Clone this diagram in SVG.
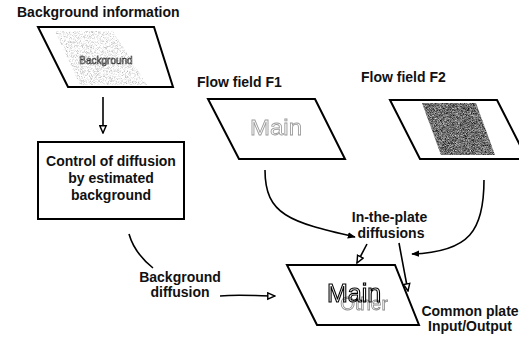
<svg xmlns="http://www.w3.org/2000/svg" width="519" height="337" viewBox="0 0 519 337">
<defs>
<style>
.t{font-family:"Liberation Sans",Arial,sans-serif;font-weight:bold;font-size:14px;fill:#111}
.plate{fill:#fff;stroke:#000;stroke-width:2;stroke-linejoin:miter}
.c{fill:none;stroke:#000;stroke-width:1.6}
.o{font-family:"Liberation Sans",Arial,sans-serif;}
</style>
<filter id="nLight" x="0" y="0" width="1" height="1" color-interpolation-filters="sRGB">
<feTurbulence type="fractalNoise" baseFrequency="1.8" numOctaves="1" seed="3"/>
<feColorMatrix type="matrix" values="0 0 0 0 0.6  0 0 0 0 0.6  0 0 0 0 0.6  2 0 0 0 -0.9"/>
<feComposite in2="SourceAlpha" operator="in"/>
</filter>
<filter id="nDark" x="0" y="0" width="1" height="1" color-interpolation-filters="sRGB">
<feTurbulence type="fractalNoise" baseFrequency="1.6" numOctaves="1" seed="7"/>
<feColorMatrix type="matrix" values="1.3 0 0 0 -0.22  1.3 0 0 0 -0.22  1.3 0 0 0 -0.22  0 0 0 0 1"/>
<feComposite in2="SourceAlpha" operator="in"/>
</filter>
<marker id="open" viewBox="0 0 10 10" refX="9" refY="5" markerWidth="9" markerHeight="9" orient="auto" markerUnits="userSpaceOnUse">
<path d="M1,1.5 L9,5 L1,8.5 Z" fill="#fff" stroke="#000" stroke-width="1.6"/>
</marker>
<marker id="solid" viewBox="0 0 10 10" refX="9" refY="5" markerWidth="8" markerHeight="8" orient="auto" markerUnits="userSpaceOnUse">
<path d="M0,1 L10,5 L0,9 Z" fill="#000"/>
</marker>
</defs>
<rect width="519" height="337" fill="#fff"/>

<g id="background-information">
<text class="t" x="17" y="17">Background information</text>
<polygon class="plate" points="38,27 154,27 173,87 68,87"/>
<polygon points="55,31 113,31 147,85 80,85" fill="#000" filter="url(#nLight)"/>
<text class="o" x="106" y="64" font-size="10" text-anchor="middle" fill="none" stroke="#333" stroke-width="0.6" opacity="0.99">Background</text>
</g>

<g id="control-box">
<rect x="38" y="142" width="146" height="77" fill="#fff" stroke="#000" stroke-width="2"/>
<text class="t" x="111" y="166" text-anchor="middle">Control of diffusion</text>
<text class="t" x="111" y="183" text-anchor="middle">by estimated</text>
<text class="t" x="111" y="200" text-anchor="middle">background</text>
</g>

<g id="flow-field-f1">
<text class="t" x="197" y="87">Flow field F1</text>
<polygon class="plate" points="208,99 315,99 345,159 239,159"/>
<text class="o" x="276" y="135" font-size="22" text-anchor="middle" textLength="52" lengthAdjust="spacingAndGlyphs" fill="#fff" stroke="#999" stroke-width="0.8" opacity="0.99">Main</text>
</g>

<g id="flow-field-f2">
<text class="t" x="361" y="82">Flow field F2</text>
<polygon class="plate" points="390,100 497,100 527,159 420,159"/>
<polygon points="422,103 476,103 495,155 441,155" fill="#000" filter="url(#nDark)"/>
</g>

<g id="common-plate">
<polygon class="plate" points="287,265 395,265 419,325 317,325"/>
<text class="o" x="364" y="310" font-size="19" text-anchor="middle" fill="none" stroke="#888" stroke-width="0.8" opacity="0.99">Other</text>
<text class="o" x="354" y="302" font-size="25" text-anchor="middle" fill="none" stroke="#000" stroke-width="1.1" opacity="0.99">Main</text>
<text class="t" x="470" y="316" text-anchor="middle">Common plate</text>
<text class="t" x="470" y="331" text-anchor="middle">Input/Output</text>
</g>

<g id="connectors">
<path class="c" d="M103,97 L103,133" marker-end="url(#open)"/>
<path class="c" d="M129,234 C133,248 143,260 153,268"/>
<path class="c" d="M220,296 C240,294 255,296 275,296" marker-end="url(#open)"/>
<path class="c" d="M265,170 C265,215 290,222 355,237" marker-end="url(#solid)"/>
<path class="c" d="M484,180 C484,230 470,252 412,254" marker-end="url(#solid)"/>
<path class="c" d="M367,244 L357,263" marker-end="url(#open)"/>
<path class="c" d="M399,243 Q403,265 408,291" marker-end="url(#open)"/>
<g id="label-background-diffusion">
<text class="t" x="180" y="281.5" text-anchor="middle">Background</text>
<text class="t" x="180" y="297" text-anchor="middle">diffusion</text>
</g>
<g id="label-in-the-plate">
<text class="t" x="389.5" y="221.5" text-anchor="middle">In-the-plate</text>
<text class="t" x="391" y="238" text-anchor="middle">diffusions</text>
</g>
</g>
</svg>
